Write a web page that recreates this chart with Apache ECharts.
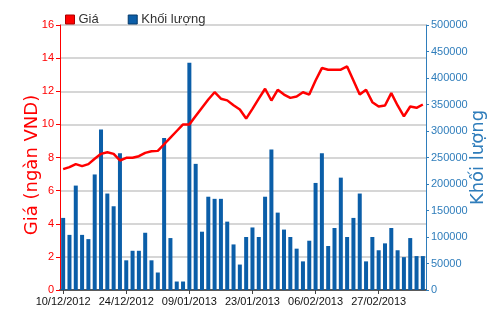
<!DOCTYPE html>
<html>
<head>
<meta charset="utf-8">
<script src="https://cdn.jsdelivr.net/npm/echarts@6/dist/echarts.min.js"></script>
<style>html,body{margin:0;padding:0;background:#fff}#c{width:500px;height:312px}</style>
</head>
<body>
<div id="c"></div>
<script>
const dates = [
  "10/12/2012","11/12/2012","12/12/2012","13/12/2012","14/12/2012","17/12/2012","18/12/2012","19/12/2012","20/12/2012","21/12/2012",
  "24/12/2012","25/12/2012","26/12/2012","27/12/2012","28/12/2012","02/01/2013","03/01/2013","04/01/2013","07/01/2013","08/01/2013",
  "09/01/2013","10/01/2013","11/01/2013","14/01/2013","15/01/2013","16/01/2013","17/01/2013","18/01/2013","21/01/2013","22/01/2013",
  "23/01/2013","24/01/2013","25/01/2013","28/01/2013","29/01/2013","30/01/2013","31/01/2013","01/02/2013","04/02/2013","05/02/2013",
  "06/02/2013","07/02/2013","08/02/2013","18/02/2013","19/02/2013","20/02/2013","21/02/2013","22/02/2013","25/02/2013","26/02/2013",
  "27/02/2013","28/02/2013","01/03/2013","04/03/2013","05/03/2013","06/03/2013","07/03/2013","08/03/2013"
];
const price = [
  7.3,7.42,7.6,7.48,7.6,7.92,8.22,8.32,8.22,7.82,
  7.98,7.98,8.08,8.28,8.38,8.4,8.8,9.2,9.6,10.0,
  10.0,10.5,11.0,11.5,11.94,11.55,11.45,11.15,10.9,10.35,
  10.94,11.55,12.15,11.44,12.09,11.8,11.6,11.68,11.94,11.8,
  12.65,13.4,13.3,13.3,13.3,13.5,12.65,11.8,12.09,11.34,
  11.08,11.14,11.89,11.14,10.48,11.08,11.0,11.2
];
const volume = [
  136000,104000,197000,104000,96000,218000,303000,182000,158000,258000,
  56000,74000,74000,108000,56000,33000,287000,98000,16000,16000,
  429000,238000,110000,176000,172000,172000,129000,86000,48000,100000,
  118000,100000,176000,265000,146000,114000,100000,78000,54000,93000,
  202000,258000,83000,117000,212000,100000,136000,182000,54000,100000,
  75000,88000,117000,75000,62000,98000,64000,64000
];
const seriesNames = ["Giá", "Khối lượng"];
const axisNames = ["Giá (ngàn VND)", "Khối lượng"];

const RED = "#ff0000", BLUE = "#0b5ea8", BLUE_AX = "#2f7dbb";
const FONT = "'Liberation Sans Narrow', 'Liberation Sans', Arial, sans-serif";
const NAMEFONT = "'DejaVu Sans', Verdana, sans-serif";
const chart = echarts.init(document.getElementById('c'), null, {renderer: 'canvas'});
chart.setOption({
  animation: false,
  backgroundColor: '#fff',
  textStyle: {fontFamily: FONT},
  legend: {
    left: 60, top: 8,
    itemWidth: 9, itemHeight: 9, itemGap: 29,
    icon: 'rect',
    textStyle: {fontSize: 13, color: '#333', fontFamily: "'Liberation Sans', Arial, sans-serif", padding: [0,0,0,-1]},
    data: [
      {name: seriesNames[0], itemStyle: {color: RED, borderColor: '#a00', borderWidth: 1}},
      {name: seriesNames[1], itemStyle: {color: BLUE, borderColor: '#063a6a', borderWidth: 1}}
    ]
  },
  grid: {left: 60, right: 74, top: 25, bottom: 22, containLabel: false},
  xAxis: [{
    type: 'category', data: dates, boundaryGap: true,
    axisLine: {lineStyle: {color: '#444', width: 1.5}},
    axisTick: {show: true, alignWithLabel: true, interval: 9, length: 4, lineStyle: {color: '#444'}},
    axisLabel: {interval: 9, color: '#111', fontSize: 11, margin: 6, fontFamily: FONT}
  }, {
    type: 'category', data: dates, position: 'top',
    axisLine: {show: true, lineStyle: {color: '#555', width: 1.5}},
    axisTick: {show: false}, axisLabel: {show: false}, splitLine: {show: false}
  }],
  yAxis: [{
    type: 'value', min: 0, max: 16, interval: 2, position: 'left',
    name: axisNames[0], nameLocation: 'middle', nameGap: 19, nameRotate: 90, nameMoveOverlap: false,
    nameTextStyle: {color: RED, fontSize: 18, fontFamily: NAMEFONT, padding: [0, 15, 0, 0]},
    axisLine: {show: true, lineStyle: {color: RED, width: 1}},
    axisTick: {show: true, length: 4, lineStyle: {color: RED}},
    axisLabel: {color: RED, fontSize: 11, margin: 6},
    splitLine: {show: true, lineStyle: {color: '#d6d6d6', width: 2}}
  }, {
    type: 'value', min: 0, max: 500000, interval: 50000, position: 'right',
    name: axisNames[1], nameLocation: 'middle', nameGap: 43, nameRotate: 90, nameMoveOverlap: false,
    nameTextStyle: {color: BLUE_AX, fontSize: 18, fontFamily: NAMEFONT},
    axisLine: {show: true, lineStyle: {color: BLUE_AX, width: 1}},
    axisTick: {show: true, length: 3, lineStyle: {color: BLUE_AX}},
    axisLabel: {color: BLUE_AX, fontSize: 11, margin: 5, formatter: v => String(v)},
    splitLine: {show: false}
  }],
  series: [{
    name: seriesNames[1], type: 'bar', yAxisIndex: 1, data: volume,
    barWidth: 4, itemStyle: {color: BLUE}, z: 2
  }, {
    name: seriesNames[0], type: 'line', yAxisIndex: 0, data: price,
    symbol: 'none', smooth: false,
    lineStyle: {color: RED, width: 2.5}, itemStyle: {color: RED}, z: 3
  }]
});
</script>
</body>
</html>
